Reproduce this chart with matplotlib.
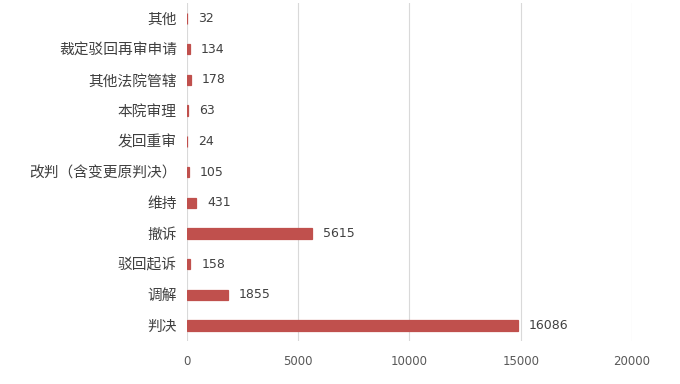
import matplotlib
matplotlib.use("Agg")
import matplotlib.pyplot as plt

plt.rcParams['font.family'] = ['Noto Sans CJK SC', 'DejaVu Sans']

# categories from bottom to top
categories = ['判决', '调解', '驳回起诉', '撤诉', '维持', '改判（含变更原判决）',
              '发回重审', '本院审理', '其他法院管辖', '裁定驳回再审申请', '其他']
labels = [16086, 1855, 158, 5615, 431, 105, 24, 63, 178, 134, 32]
# bar lengths as drawn in the reference (the 判决 bar is drawn shorter than its label)
bar_lengths = [14870, 1855, 158, 5615, 431, 105, 24, 63, 178, 134, 32]
xticks = [0, 5000, 10000, 15000, 20000]

fig = plt.figure(figsize=(6.8, 3.84), dpi=100)
ax = fig.add_axes([0.2745, 0.112, 0.655, 0.88])

ypos = list(range(len(categories)))
ax.barh(ypos, bar_lengths, height=0.34, color='#C0504D', edgecolor='#C0504D',
        linewidth=0.9, zorder=2)

for y, w, lab in zip(ypos, bar_lengths, labels):
    ax.annotate(str(lab), (w, y), xytext=(8, 0), textcoords='offset points',
                va='center', ha='left', fontsize=9, color='#404040',
                family=['DejaVu Sans'])

ax.set_xlim(0, 20000)
ax.set_ylim(-0.5, len(categories) - 0.5)
ax.set_xticks(xticks)
ax.set_xticklabels([str(t) for t in xticks], family=['DejaVu Sans'])
ax.set_yticks(ypos)
ax.set_yticklabels(categories)
ax.tick_params(axis='y', length=0, pad=7, labelsize=10.6, labelcolor='#404040')
ax.tick_params(axis='x', length=0, pad=10, labelsize=8.5, labelcolor='#595959')
ax.grid(axis='x', color='#D9D9D9', linewidth=0.8, zorder=0)
for s in ax.spines.values():
    s.set_visible(False)

fig.savefig('out.png', dpi=100)
